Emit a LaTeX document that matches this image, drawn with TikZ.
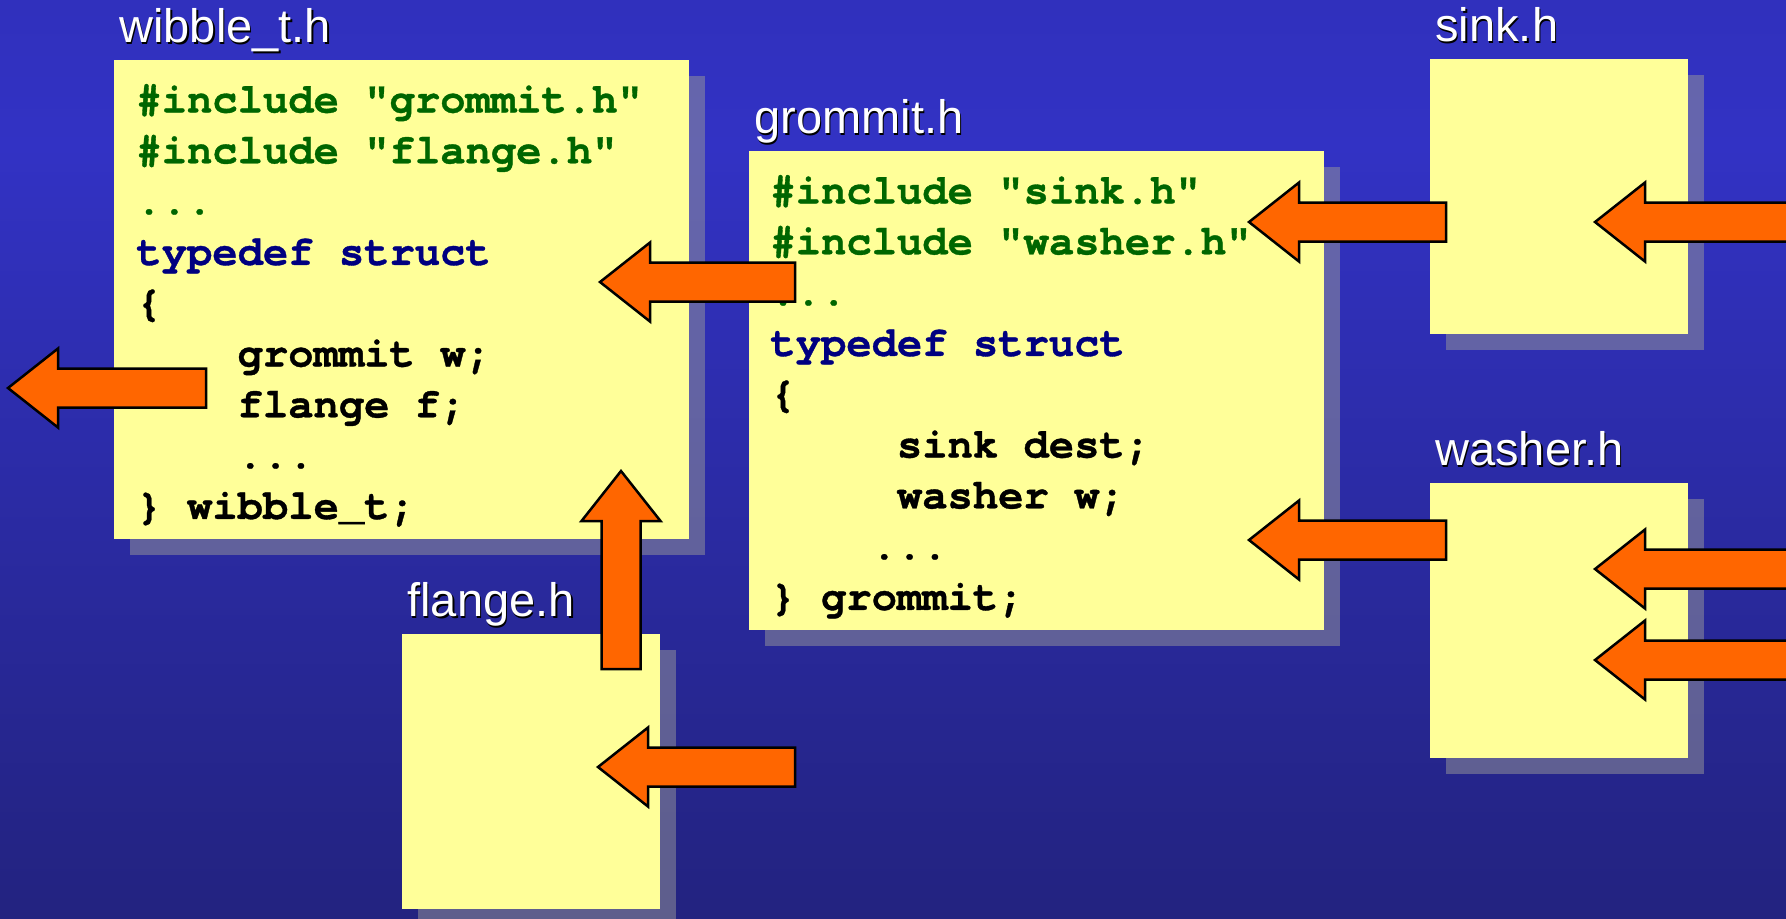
\documentclass[tikz,border=0pt]{standalone}
\usepackage{fontspec}
\setmainfont{Liberation Sans}
\newfontfamily\codefont{texgyrecursor}[Extension=.otf,UprightFont=*-regular,BoldFont=*-bold,Ligatures=NoCommon,BoldFeatures={FakeBold=0.8}]
\usepackage{tikz}
\usetikzlibrary{calc}
\usetikzlibrary{shadows}
\definecolor{boxyellow}{HTML}{FFFF99}
\definecolor{inclgreen}{HTML}{006600}
\definecolor{kwblue}{HTML}{000080}
\definecolor{arrorange}{HTML}{FF6600}
\definecolor{bgtop}{HTML}{2A2AA6}
\definecolor{bgmid}{HTML}{3232C4}
\definecolor{bgbot}{HTML}{1B1B5E}
\pgfdeclareverticalshading{slide}{100bp}{color(0bp)=(bgbot); color(30bp)=(bgbot!60!bgmid); color(67bp)=(bgmid); color(100bp)=(bgtop)}
\tikzset{filebox/.style={anchor=north west,inner sep=0pt,fill=boxyellow,drop shadow={shadow xshift=8pt,shadow yshift=-8pt,fill=white!60!black,opacity=.5}},
bigfile/.style={filebox,minimum width=287.5pt,minimum height=239.5pt},
smallfile/.style={filebox,minimum width=129pt,minimum height=137.5pt},
fname/.style={anchor=base west,inner sep=0pt,font=\fontsize{23.5}{28}\selectfont},
codeline/.style={anchor=base west,inner sep=0pt,font=\fontsize{21.1}{25}\codefont\bfseries},
inclline/.style={codeline,text=inclgreen},
kwline/.style={codeline,text=kwblue},
bodyline/.style={codeline,text=black},
inclarrow/.style={draw=black,fill=arrorange,line width=1.25pt}}
\newcommand\ddd{...}
% block arrow from #2 (tail) to #1 (tip)
\newcommand\incarrow[2]{%
\coordinate (hb) at ($(#1)!25pt!(#2)$);
\draw[inclarrow] (#1) -- ($(hb)!19.75pt!90:(#1)$) -- ($(hb)!9.75pt!90:(#1)$) -- ($(#2)!9.75pt!90:(hb)$) -- ($(#2)!9.75pt!-90:(hb)$) -- ($(hb)!9.75pt!-90:(#1)$) -- ($(hb)!19.75pt!-90:(#1)$) -- cycle;}

\begin{document}
\begin{tikzpicture}[x=0.5pt,y=-0.5pt]
\useasboundingbox (0,0) rectangle (1786,918);
\clip (0,0) rectangle (1786,918);
\shade[shading=slide] (0,0) rectangle (1786,918);

\node (wibble) at (114,60) [bigfile] {};
\node (grommit) at (749,151) [bigfile] {};
\node (sink) at (1430,59) [smallfile] {};
\node (washer) at (1430,483) [smallfile] {};
\node (flange) at (402,634) [smallfile] {};

\foreach \f/\t in {wibble/wibble\_t.h, grommit/grommit.h, sink/sink.h, washer/washer.h, flange/flange.h} {
\node (\f-shade) at ($(\f.north west)+(6.5,-16)$) [fname,black] {\t};
\node (\f-name) at ($(\f.north west)+(5,-17.5)$) [fname,white] {\t};
}

\foreach \s/\n/\t [count=\i from 0] in {inclline/0/\#include "grommit.h", inclline/0/\#include "flange.h", inclline/0/\ddd, kwline/0/typedef struct, bodyline/0/\{, bodyline/4/grommit w;, bodyline/4/flange f;, bodyline/4/\ddd, bodyline/0/\} wibble\_t;}
\node (wl\i) at ($(wibble.north west)+(22+25.3*\n,52.5+50.8*\i)$) [\s] {\t};

\foreach \s/\n/\t [count=\i from 0] in {inclline/0/\#include "sink.h", inclline/0/\#include "washer.h", inclline/0/\ddd, kwline/0/typedef struct, bodyline/0/\{, bodyline/5/sink dest;, bodyline/5/washer w;, bodyline/4/\ddd, bodyline/0/\} grommit;}
\node (gl\i) at ($(grommit.north west)+(21+25.3*\n,52.5+50.8*\i)$) [\s] {\t};

\coordinate (gw-tip) at (600,282); \coordinate (gw-tail) at (795,282);
\coordinate (wo-tip) at (8,388); \coordinate (wo-tail) at (206,388);
\coordinate (fw-tip) at (621,471); \coordinate (fw-tail) at (621,669);
\coordinate (fi-tip) at (598,767); \coordinate (fi-tail) at (795,767);
\coordinate (sg-tip) at (1249,222); \coordinate (sg-tail) at (1446,222);
\coordinate (wg-tip) at (1249,540); \coordinate (wg-tail) at (1446,540);
\coordinate (si-tip) at (1595,222); \coordinate (si-tail) at (1800,222);
\coordinate (wa-tip) at (1595,569); \coordinate (wa-tail) at (1800,569);
\coordinate (wb-tip) at (1595,660); \coordinate (wb-tail) at (1800,660);
\foreach \a in {gw,wo,fw,fi,sg,wg,si,wa,wb} {\incarrow{\a-tip}{\a-tail}}
\end{tikzpicture}
\end{document}
